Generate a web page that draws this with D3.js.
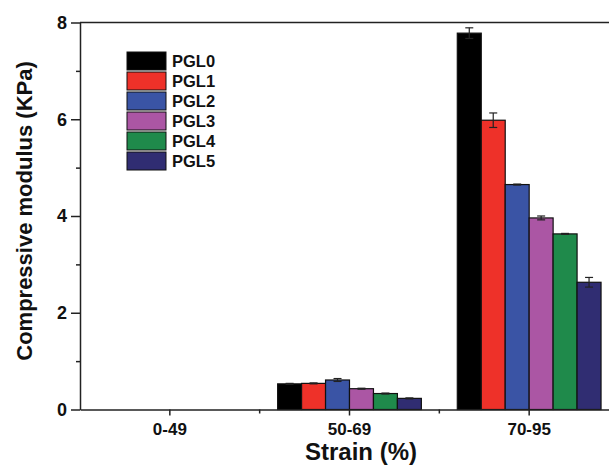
<!DOCTYPE html>
<html>
<head>
<meta charset="utf-8">
<script src="https://cdn.jsdelivr.net/npm/d3@7"></script>
<style>
	body { margin: 0; background: #fff; }
	svg text { font-family: "Liberation Sans", Arial, sans-serif; font-weight: bold; fill: #111; }
</style>
</head>
<body>
<div id="chart"></div>
<script>
var categories = ["0-49", "50-69", "70-95"];
var series = ["PGL0", "PGL1", "PGL2", "PGL3", "PGL4", "PGL5"];
var colors = ["#000000", "#ee3129", "#3a54a5", "#ab56a4", "#1f8a4b", "#302d72"];

// values per series, one per strain category
var PGL0 = [0, 0.53, 7.78];
var PGL1 = [0, 0.54, 5.98];
var PGL2 = [0, 0.61, 4.65];
var PGL3 = [0, 0.43, 3.96];
var PGL4 = [0, 0.33, 3.63];
var PGL5 = [0, 0.23, 2.63];
var values = [PGL0, PGL1, PGL2, PGL3, PGL4, PGL5];

var PGL0err = [0, 0.01, 0.11];
var PGL1err = [0, 0.01, 0.15];
var PGL2err = [0, 0.03, 0.01];
var PGL3err = [0, 0.01, 0.04];
var PGL4err = [0, 0.01, 0.01];
var PGL5err = [0, 0.01, 0.10];
var errors = [PGL0err, PGL1err, PGL2err, PGL3err, PGL4err, PGL5err];

var yTicks = [0, 2, 4, 6, 8];
var yMinor = [1, 3, 5, 7];

var width = 609, height = 473;
var mLeft = 80, mRight = 619, mTop = 22.5, mBottom = 409.5;

var svg = d3.select("#chart")
  .append("svg")
    .attr("width", width)
    .attr("height", height);

var x = d3.scaleBand()
    .domain(categories)
    .range([mLeft, mRight])
    .paddingInner(0.2)
    .paddingOuter(0.1);

var xSub = d3.scaleBand()
    .domain(series)
    .range([0, x.bandwidth()]);

var y = d3.scaleLinear()
    .domain([0, 8])
    .range([mBottom, mTop]);

// bars
var rows = [];
categories.forEach(function(c, ci) {
	series.forEach(function(s, si) {
		rows.push({ cat: c, s: s, v: values[si][ci], e: errors[si][ci], color: colors[si] });
	});
});

var bars = svg.append("g");

bars.selectAll("rect")
    .data(rows.filter(function(d) { return d.v > 0; }))
  .enter().append("rect")
    .attr("x", function(d) { return x(d.cat) + xSub(d.s); })
    .attr("y", function(d) { return y(d.v); })
    .attr("width", xSub.bandwidth())
    .attr("height", function(d) { return y(0) - y(d.v); })
    .attr("fill", function(d) { return d.color; })
    .attr("stroke", "#111")
    .attr("stroke-width", 1.2);

// error bars
var err = svg.append("g")
    .attr("stroke", "#222")
    .attr("stroke-width", 1.2);

rows.filter(function(d) { return d.v > 0; }).forEach(function(d) {
	var cx = x(d.cat) + xSub(d.s) + xSub.bandwidth() / 2;
	err.append("line")
	    .attr("x1", cx).attr("x2", cx)
	    .attr("y1", y(d.v + d.e)).attr("y2", y(d.v - d.e));
	[d.v + d.e, d.v - d.e].forEach(function(v) {
		err.append("line")
		    .attr("x1", cx - 4).attr("x2", cx + 4)
		    .attr("y1", y(v)).attr("y2", y(v));
	});
});

// y axis
var yAxis = svg.append("g")
    .attr("transform", "translate(" + mLeft + ",0)")
    .call(d3.axisLeft(y).tickValues(yTicks).tickSize(9).tickPadding(4).tickFormat(d3.format("d")).tickSizeOuter(0));

svg.append("g")
    .attr("transform", "translate(" + mLeft + ",0)")
    .call(d3.axisLeft(y).tickValues(yMinor).tickSize(4).tickFormat(""))
    .select(".domain").remove();

yAxis.selectAll("text")
    .style("font-size", "18px")
    .attr("fill", "#111");

// x axis
var xAxis = svg.append("g")
    .attr("transform", "translate(0," + mBottom + ")")
    .call(d3.axisBottom(x).tickSize(6).tickPadding(7).tickSizeOuter(0));

xAxis.selectAll("text")
    .style("font-size", "17px")
    .attr("fill", "#111");

var bounds = [x(categories[1]) - x.step() * x.paddingInner() / 2, x(categories[2]) - x.step() * x.paddingInner() / 2];
svg.append("g")
    .attr("transform", "translate(0," + mBottom + ")")
  .selectAll("line")
    .data(bounds)
  .enter().append("line")
    .attr("x1", function(d) { return d; })
    .attr("x2", function(d) { return d; })
    .attr("y1", 0)
    .attr("y2", 4)
    .attr("stroke", "#222")
    .attr("stroke-width", 1.5);

svg.selectAll(".domain, .tick line")
    .attr("stroke", "#222")
    .attr("stroke-width", 1.5);

// top frame line
svg.append("line")
    .attr("x1", mLeft).attr("x2", mRight)
    .attr("y1", mTop).attr("y2", mTop)
    .attr("stroke", "#222")
    .attr("stroke-width", 1.5);

// axis titles
svg.append("text")
    .attr("x", 361)
    .attr("y", 460)
    .attr("text-anchor", "middle")
    .style("font-size", "24px")
    .text("Strain (%)");

svg.append("text")
    .attr("transform", "translate(32,211) rotate(-90)")
    .attr("text-anchor", "middle")
    .style("font-size", "22px")
    .text("Compressive modulus (KPa)");

// legend
var legend = svg.append("g")
    .attr("transform", "translate(127,52)");

var item = legend.selectAll("g")
    .data(series)
  .enter().append("g")
    .attr("transform", function(d, i) { return "translate(0," + (i * 20) + ")"; });

item.append("rect")
    .attr("width", 39)
    .attr("height", 18)
    .attr("fill", function(d, i) { return colors[i]; })
    .attr("stroke", "#111")
    .attr("stroke-width", 1);

item.append("text")
    .attr("x", 45)
    .attr("y", 15)
    .style("font-size", "16.5px")
    .text(function(d) { return d; });
</script>
</body>
</html>
